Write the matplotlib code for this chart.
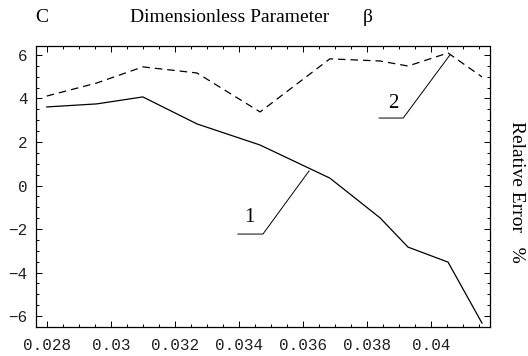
import numpy as np
import matplotlib.pyplot as plt
from matplotlib.ticker import MultipleLocator, FixedLocator

beta = [0.0280, 0.02956, 0.0310, 0.03269, 0.03466, 0.03684, 0.03841, 0.03928, 0.04053, 0.04159]
err_1 = [3.61, 3.75, 4.07, 2.83, 1.86, 0.34, -1.49, -2.83, -3.52, -6.32]
err_2 = [4.11, 4.71, 5.45, 5.17, 3.38, 5.82, 5.72, 5.49, 6.09, 4.99]
xticks = [0.028, 0.030, 0.032, 0.034, 0.036, 0.038, 0.040]
xlabels = ["0.028", "0.03", "0.032", "0.034", "0.036", "0.038", "0.04"]
yticks = [-6, -4, -2, 0, 2, 4, 6]

serif = "Liberation Serif"
mono = "Liberation Mono"

fig = plt.figure(figsize=(5.28, 3.56), dpi=100)
ax = fig.add_axes([0.068, 0.0815, 0.860, 0.7893])

ax.plot(beta, err_1, color="black", lw=0.9)
ax.plot(beta, err_2, color="black", lw=0.9, dashes=(6, 4))

ax.set_xlim(0.02766, 0.04184)
ax.set_ylim(-6.5, 6.41)

ax.xaxis.set_major_locator(FixedLocator(xticks))
ax.set_xticklabels(xlabels)
ax.xaxis.set_minor_locator(MultipleLocator(0.0005))
ax.yaxis.set_major_locator(FixedLocator(yticks))
ax.yaxis.set_minor_locator(MultipleLocator(0.5))
ax.tick_params(which="both", direction="in", top=True, right=True,
               width=0.7, colors="black")
ax.tick_params(which="major", length=4)
ax.tick_params(which="minor", length=2)
ax.tick_params(axis="x", pad=8)
ax.tick_params(axis="y", pad=6)
for lab in ax.get_xticklabels() + ax.get_yticklabels():
    lab.set_family(mono)
    lab.set_fontsize(11.5)
    lab.set_color("#222222")
for s in ax.spines.values():
    s.set_linewidth(0.9)

# curve labels with leader lines
ax.plot([0.03397, 0.03475, 0.03619], [-2.23, -2.23, 0.67], color="black", lw=0.7)
ax.text(0.03434, -1.49, "1", family=serif, fontsize=15, ha="center", va="center")
ax.plot([0.03838, 0.03913, 0.04059], [3.10, 3.10, 6.0], color="black", lw=0.7)
ax.text(0.03881, 3.79, "2", family=serif, fontsize=15, ha="center", va="center")

fig.text(42 / 528, 1 - 18 / 356, "C", family=serif, fontsize=14, ha="center", va="center")
fig.text(130 / 528, 1 - 18 / 356, "Dimensionless Parameter", family=serif,
         fontsize=14, ha="left", va="center")
fig.text(368 / 528, 1 - 18 / 356, "β", family=serif, fontsize=14, ha="center", va="center")
fig.text(517 / 528, 1 - 192 / 356, "Relative Error   %", family=serif, fontsize=14,
         rotation=-90, ha="center", va="center")

fig.savefig("out.png", dpi=100)
